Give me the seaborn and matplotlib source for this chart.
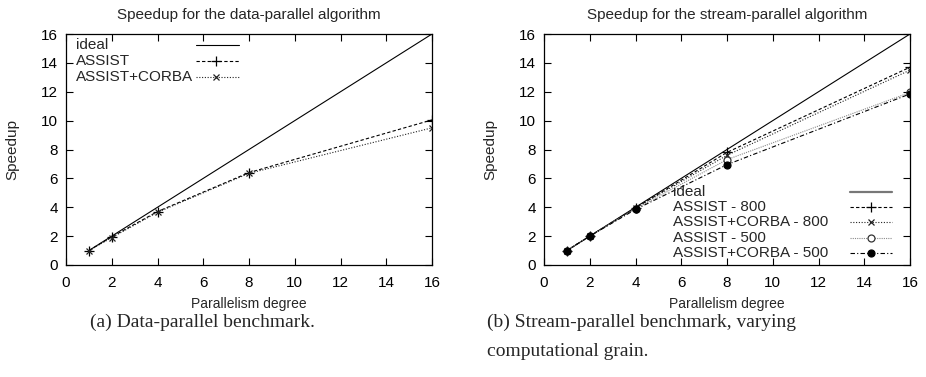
import pandas as pd
import matplotlib
matplotlib.use('Agg')
import matplotlib.pyplot as plt
import seaborn as sns

# Dati
degrees = [1, 2, 4, 8, 16]
ideal = [1, 2, 4, 8, 16]

data_assist = [1.0, 1.95, 3.7, 6.4, 10.05]
data_corba = [1.0, 1.9, 3.65, 6.35, 9.5]

stream_assist_800 = [1.0, 2.0, 3.95, 7.8, 13.7]
stream_corba_800 = [1.0, 2.0, 3.95, 7.6, 13.5]
stream_assist_500 = [1.0, 2.0, 3.9, 7.3, 11.95]
stream_corba_500 = [1.0, 2.0, 3.85, 6.95, 11.85]

sns.set_style('ticks')
plt.rcParams['font.family'] = ['Liberation Sans', 'DejaVu Sans']

W, H = 926, 377
fig = plt.figure(figsize=(W / 100, H / 100), dpi=100)
ax1 = fig.add_axes([66 / W, (H - 265) / H, 366 / W, 231 / H])
ax2 = fig.add_axes([544 / W, (H - 265) / H, 366 / W, 231 / H])

# stili: (colore, tratteggio, marker, dimensione, riempimento)
STYLES = {
    'ideal': ('black', None, None, 0, None),
    'assist': ('black', (3, 2), '+', 7, None),
    'corba': ('#222222', (1, 1.5), 'x', 5, None),
    'assist500': ('#8a8a8a', (1, 1), 'o', 5, 'white'),
    'corba500': ('black', (4, 2, 1, 2), 'o', 5, None),
}


def draw(ax, y, key):
    color, dashes, marker, ms, mfc = STYLES[key]
    df = pd.DataFrame({'x': degrees, 'y': y})
    sns.lineplot(data=df, x='x', y='y', ax=ax, color=color, lw=0.8,
                 marker=marker, markersize=ms,
                 markerfacecolor=mfc if mfc else color,
                 markeredgecolor='#333333' if mfc else color,
                 markeredgewidth=0.9, legend=False)
    if dashes:
        ax.get_lines()[-1].set_dashes(dashes)


def legend_row(ax, label, key, tx, ty, x0, x1, xm):
    # legenda stile gnuplot: testo a sinistra, campione a destra
    color, dashes, marker, ms, mfc = STYLES[key]
    ax.text(tx, ty, label, transform=ax.transAxes, fontsize=11,
            va='center', ha='left')
    ln, = ax.plot([x0, x1], [ty, ty], transform=ax.transAxes, color=color,
                  lw=0.8, clip_on=False)
    if dashes:
        ln.set_dashes(dashes)
    if marker:
        ax.plot([xm], [ty], transform=ax.transAxes, marker=marker,
                markersize=ms, color=color,
                markerfacecolor=mfc if mfc else color,
                markeredgecolor='#333333' if mfc else color,
                markeredgewidth=0.9, clip_on=False)
    return ln


def style_axes(ax, title):
    ax.set_xlim(0, 16)
    ax.set_ylim(0, 16)
    ax.set_xticks(range(0, 17, 2))
    ax.set_yticks(range(0, 17, 2))
    ax.tick_params(direction='in', top=True, right=True, length=5,
                   width=0.8, labelsize=11, colors='black')
    ax.tick_params(axis='x', pad=8)
    ax.tick_params(axis='y', pad=6)
    for s in ax.spines.values():
        s.set_visible(True)
        s.set_linewidth(0.9)
        s.set_color('black')
    ax.set_xlabel('Parallelism degree', fontsize=10, labelpad=5)
    ax.set_ylabel('Speedup', fontsize=11, labelpad=15)
    ax.set_title(title, fontsize=11, pad=11)


# (a) data-parallel
draw(ax1, ideal, 'ideal')
draw(ax1, data_assist, 'assist')
draw(ax1, data_corba, 'corba')
style_axes(ax1, 'Speedup for the data-parallel algorithm')
rows_a = [('ideal', 'ideal'), ('ASSIST', 'assist'), ('ASSIST+CORBA', 'corba')]
for i, (lab, key) in enumerate(rows_a):
    legend_row(ax1, lab, key, 0.027, 0.952 - i * 0.069, 0.355, 0.473, 0.41)

# (b) stream-parallel
draw(ax2, ideal, 'ideal')
draw(ax2, stream_assist_800, 'assist')
draw(ax2, stream_corba_800, 'corba')
draw(ax2, stream_assist_500, 'assist500')
draw(ax2, stream_corba_500, 'corba500')
style_axes(ax2, 'Speedup for the stream-parallel algorithm')
rows_b = [('ideal', 'ideal'), ('ASSIST - 800', 'assist'),
          ('ASSIST+CORBA - 800', 'corba'), ('ASSIST - 500', 'assist500'),
          ('ASSIST+CORBA - 500', 'corba500')]
for i, (lab, key) in enumerate(rows_b):
    ln = legend_row(ax2, lab, key, 0.352, 0.316 - i * 0.066, 0.836, 0.951, 0.893)
    if key == 'ideal':
        ln.set_color('#777777')
        ln.set_linewidth(1.6)

# didascalie
serif = ['Liberation Serif', 'DejaVu Serif']
fig.text(90 / W, 1 - 322 / H, '(a) Data-parallel benchmark.',
         family=serif, fontsize=14, va='center')
fig.text(487 / W, 1 - 322 / H, '(b) Stream-parallel benchmark, varying',
         family=serif, fontsize=14, va='center')
fig.text(487 / W, 1 - 351 / H, 'computational grain.',
         family=serif, fontsize=14, va='center')

fig.savefig('out.png', dpi=100, facecolor='white')
